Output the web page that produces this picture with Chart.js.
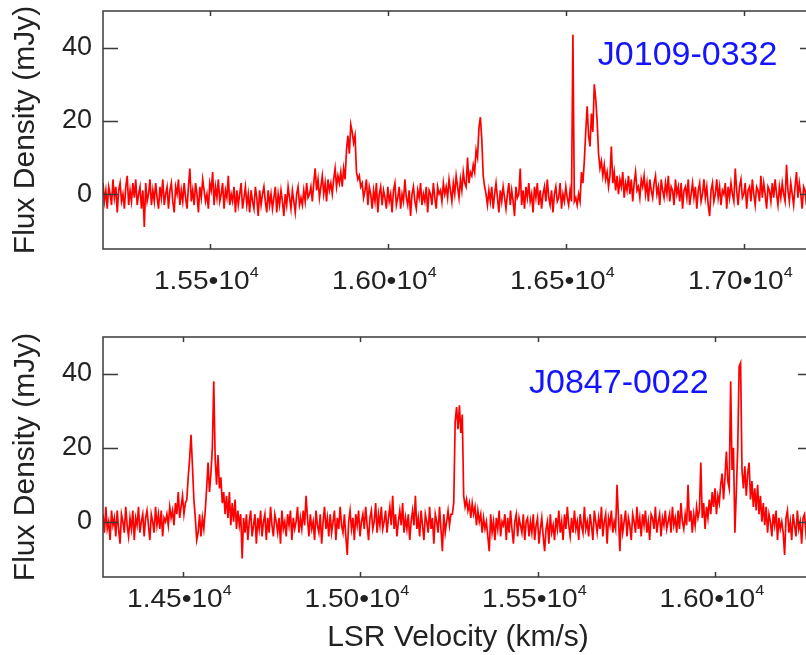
<!DOCTYPE html>
<html>
<head>
<meta charset="utf-8">
<script src="https://cdn.jsdelivr.net/npm/chart.js@4.4.1/dist/chart.umd.min.js"></script>
<style>
  html, body { margin: 0; padding: 0; background: #fff; }
  #fig { position: relative; width: 806px; height: 655px; overflow: hidden; background: #fff; }
  #fig canvas { position: absolute; left: 0; }
  #c1 { top: 0; }
  #c2 { top: 320px; }
</style>
</head>
<body>
<div id="fig">
  <canvas id="c1" width="830" height="320"></canvas>
  <canvas id="c2" width="830" height="335"></canvas>
</div>
<script>
// ---- J0109-0332: channels start at TOP_V0 km/s, spaced TOP_DV km/s ----
const TOP_NAME = 'J0109-0332';
const TOP_V0 = 15200;
const TOP_DV = 4;
const TOP_FLUX = [
  3, -2, 1, -4, 2, 0, -3, 4, -1, 2, -5, 1, 3, -2, 0, -4, 2, 5, -3, 1,
  -2, 3, -1, 4, -3, 0, 2, -4, 1, -9, 3, -2, 0, 4, -3, 1, -2, 3, -1, -4,
  2, -1, 4, -3, 0, 2, -4, 1, 3, -2, -5, 2, 0, 4, -3, 1, -2, 3, -1, -4,
  2, 7, -2, 1, -3, 3, 0, -5, 2, -1, 4, 1, -2, 0, -4, 3, 1, 6, -3, 2,
  -1, 4, -2, 0, 3, -4, 1, -1, 5, -3, 0, -2, 2, -5, 1, -3, 0, 3, -4, -1,
  2, -3, 0, -5, 1, -2, -4, 2, -1, -6, 1, -3, 0, 2, -2, -5, 1, -3, 0, -4,
  -1, 2, -5, 0, -3, 1, -2, -6, 0, -3, 2, -1, -4, 1, -2, -5, 0, 2, -3, -1,
  -3, 1, -2, 3, -1, 0, 2, -2, 3, 7, 1, 4, -1, 2, 5, 0, 3, -2, 4, 1,
  3, 0, 4, 7, 2, 5, 3, 6, 2, 7, 4, 12, 16, 11, 19, 17, 14, 16, 6, 4,
  5, 2, 3, -1, 1, 4, -3, 2, 0, -4, 1, -2, 3, -5, 0, 2, -3, 1, -1, -4,
  2, -2, 0, -5, 1, 3, -3, -1, 2, -4, 0, -2, 4, -1, -3, 1, -6, 0, 2, -2,
  -4, 1, -1, 3, -3, 0, -2, 2, -5, 1, 0, -3, 3, -1, -4, 2, 0, 1, -2, 3,
  0, 2, -1, 4, 1, -2, 3, 0, 5, 2, -1, 4, 1, 6, 3, 2, 10, 3, 6, 5,
  8, 6, 12, 10, 18, 21, 15, 5, 2, 0, -3, 1, -2, 2, -4, 0, 3, -1, -5, 1,
  -2, 2, -1, -4, 0, 3, -3, 1, -2, -6, 2, -1, 0, 7, -3, 1, -4, 2, -1, 3,
  -2, 0, -5, 2, -1, 3, -3, 1, -4, 0, 2, -2, 4, -1, -3, 1, -5, 0, 2, -2,
  -1, 3, -4, 0, -2, 2, -1, -3, 1, -2, 43.5, -2, -1, -3, 0, -2, 6, 3, 9, 17,
  24, 16, 13, 22, 17, 30, 26, 20, 11, 7, 9, 5, 8, 4, 6, 2, 5, 13, 3, 6,
  1, 5, 0, 4, 2, 6, -1, 3, 1, 5, 0, 4, -2, 3, 6, 1, 2, -1, 4, 2,
  5, 0, 3, -2, 4, 1, -1, 3, 5, 0, 2, -3, 4, 1, -1, 3, 0, 5, -2, 2,
  1, -3, 4, 0, 2, -2, 3, -4, 1, 2, -1, 4, -3, 0, 3, -1, 2, -4, 1, 3,
  -2, 0, 4, -1, 2, -3, -6, 1, 3, -2, 0, 4, -1, 2, -3, 1, 0, 3, -4, 2,
  -1, 3, 0, -2, 7, 1, -3, 2, 4, -1, 0, 3, -4, 1, 2, -2, 4, 0, -3, 2,
  1, -2, 5, -1, 3, 0, -4, 2, 1, -2, 3, -1, 4, 0, -3, 2, -1, 3, 0, -2,
  8, 1, -2, 3, 0, -3, 2, 6, -1, 3, 0, -4, 2, 1, -3, 4, 0, -2, 3, 1
];
const TOP_XRANGE = [15200, 17200];
const TOP_XTICKS = [15500, 16000, 16500, 17000];

// ---- J0847-0022 ----
const BOT_NAME = 'J0847-0022';
const BOT_V0 = 14275;
const BOT_DV = 4;
const BOT_FLUX = [
  2, -3, 4, -2, 0, -5, 3, -1, 1, -4, 3, -2, -6, 2, 0, -3, 4, -1, -4, 1,
  -2, 3, -5, 1, -1, 4, -3, 0, 2, -4, 1, 3, -1, -5, 2, 0, -3, 4, -1, 2,
  -2, 3, -4, 1, 0, 2, -1, 4, 1, 3, -1, 5, 2, 8, 1, 4, 7, 2, 5, 6,
  12, 17, 23.5, 15, 6, 1, -5, -3, 2, -4, 1, -2, 3, 9, 16, 8, 13, 20, 38, 17,
  10, 18, 9, 12, 5, 8, 2, 7, 1, 8, -1, 5, 0, 6, -2, 3, -1, 2, -10, 1,
  -3, 2, -5, 0, 3, -4, -1, 2, -6, 1, -2, 3, -4, 0, 2, -5, 1, -3, 4, -1,
  -4, 2, 0, -3, 1, -6, 3, -2, 0, -4, 2, -1, 3, -5, 1, -2, 0, 4, -3, 1,
  -2, 3, -1, 7, 1, -4, 2, -2, 0, -5, 3, -1, -3, 2, -6, 0, 4, -2, 1, -4,
  2, -3, 0, 3, -5, 1, -2, 4, -1, -3, 2, -4, -9, 0, 3, -2, 1, -5, 2, -1,
  3, -4, 0, 2, -2, 4, -1, -5, 1, 3, -2, 0, 5, -3, 2, -1, 4, -2, 0, 3,
  -3, 1, 4, -1, 7, -2, 2, -4, 0, 3, -1, 5, -3, 1, -2, 2, -5, 0, 3, -1,
  7, -2, 1, -4, 3, -1, -5, 2, 0, -3, 4, -2, 1, -6, 2, 0, -3, 4, -2, -8,
  2, -3, 0, 3, -1, 2, 2, 5, 27, 31, 25, 31.5, 24, 29, 7, 4, 6, 3, 5, 1,
  5, 2, 4, -1, 3, 0, 2, -3, 1, -2, 0, -4, -8, 2, -3, 0, -5, 1, -2, 3,
  -4, 0, -1, 2, -5, 1, -3, 3, -2, -6, 0, 2, -4, 1, -1, -3, 2, -5, 0, 1,
  -4, 0, -3, 2, -5, -1, 1, -6, -2, 1, -4, -8, -2, 0, -6, 2, -3, -1, -5, 1,
  -2, 3, -3, 0, -5, 2, -2, 4, -1, -4, 1, -3, 3, -2, 0, -5, 2, -1, -3, 4,
  -2, 0, -4, 2, -1, -5, 3, 0, -3, 1, -2, 4, -4, 0, 2, -6, 1, -1, 3, -3,
  0, -2, 10, 1, -8, 2, -3, 0, 3, -4, 1, -1, -5, 2, 0, -3, 4, -2, 1, -4,
  2, -1, 3, -3, 0, -5, 2, 1, -2, 4, -3, 0, 2, -4, 1, -1, 3, -2, 0, 2,
  -3, 4, -1, 1, -3, 3, -2, 5, 0, -2, 2, -1, 10, 0, 3, -3, 2, -1, 4, 1,
  3, 16, 1, 5, -2, 4, 1, 6, 2, 8, 4, 9, 2, 7, 5, 10, 13, 6, 12, 19,
  11, 9, 38, 14, 20, -3, 8, 20, 42, 43, 14, 9, 15, 7, 13, 16, 6, 11, 4, 9,
  3, 10, 2, 7, 0, 5, -1, 4, -3, 2, 0, -4, 2, -1, 3, -5, 1, -2, 0, -3,
  -9, 1, 3, -3, 0, -5, 2, -1, -4, 3, -2, 0, -6, 1, 2, -3, 0, -5, 2, -1
];
const BOT_XRANGE = [14275, 16275];
const BOT_XTICKS = [14500, 15000, 15500, 16000];

// ---- shared flux axis ----
const Y_RANGE = [-15, 50];
const Y_TICKS = [0, 20, 40];
const EXPONENT = 4;

const FONT = "'Liberation Sans', Arial, Helvetica, sans-serif";
const INK = '#222222';
const FRAME = '#3a3a3a';

// Frame with inward ticks on all four sides, scientific x labels and the source name
const panelDecor = {
  id: 'panelDecor',
  afterDraw(chart, args, o) {
    const { ctx, chartArea: a } = chart;
    const xs = chart.scales.x, ys = chart.scales.y;
    ctx.save();
    ctx.strokeStyle = FRAME;
    ctx.lineWidth = 1.5;
    ctx.strokeRect(a.left, a.top, a.right - a.left, a.bottom - a.top);
    ctx.beginPath();
    ys.ticks.forEach(t => {
      const py = Math.round(ys.getPixelForValue(t.value)) + 0.5;
      ctx.moveTo(a.left, py); ctx.lineTo(a.left + 15, py);
      ctx.moveTo(a.right, py); ctx.lineTo(a.right - 15, py);
    });
    xs.ticks.forEach(t => {
      const px = Math.round(xs.getPixelForValue(t.value)) + 0.5;
      ctx.moveTo(px, a.bottom); ctx.lineTo(px, a.bottom - 5);
      ctx.moveTo(px, a.top); ctx.lineTo(px, a.top + 5);
    });
    ctx.stroke();

    // x tick labels written as m.mm•10^4
    const sx = 1.08;
    ctx.fillStyle = INK;
    ctx.textAlign = 'left';
    ctx.textBaseline = 'alphabetic';
    xs.ticks.forEach(t => {
      const px = xs.getPixelForValue(t.value);
      const main = (t.value / Math.pow(10, EXPONENT)).toFixed(2) + '\u202210';
      const sup = String(EXPONENT);
      ctx.font = '26px ' + FONT;
      const w1 = ctx.measureText(main).width * sx;
      ctx.font = '15px ' + FONT;
      const w2 = ctx.measureText(sup).width * sx;
      const x0 = px - (w1 + w2) / 2 - 3.5;
      const yb = a.bottom + o.labelDrop;
      ctx.save();
      ctx.translate(x0, yb);
      ctx.scale(sx, 1);
      ctx.font = '26px ' + FONT;
      ctx.fillText(main, 0, 0);
      ctx.font = '15px ' + FONT;
      ctx.fillText(sup, w1 / sx, -12.5);
      ctx.restore();
    });

    // source name
    ctx.fillStyle = '#1414ff';
    ctx.font = '34px ' + FONT;
    ctx.fillText(o.name, xs.getPixelForValue(o.nameAt[0]), ys.getPixelForValue(o.nameAt[1]));
    ctx.restore();
  }
};

function makePanel(id, p) {
  const points = p.flux.map((f, i) => ({ x: p.v0 + i * p.dv, y: f }));
  return new Chart(document.getElementById(id), {
    type: 'line',
    data: {
      datasets: [{
        data: points,
        borderColor: '#ff0000',
        borderWidth: 1.7,
        borderJoinStyle: 'miter',
        pointRadius: 0,
        tension: 0,
        fill: false
      }]
    },
    options: {
      responsive: false,
      animation: false,
      events: [],
      layout: { autoPadding: false, padding: p.padding },
      plugins: {
        legend: { display: false },
        tooltip: { enabled: false },
        panelDecor: { name: p.name, nameAt: p.nameAt, labelDrop: p.labelDrop }
      },
      scales: {
        x: {
          type: 'linear',
          min: p.xRange[0],
          max: p.xRange[1],
          afterBuildTicks: s => { s.ticks = p.xTicks.map(v => ({ value: v })); },
          grid: { display: false, drawTicks: false },
          border: { display: false },
          ticks: { display: false },
          title: p.xTitle
            ? { display: true, text: p.xTitle, color: INK,
                font: { family: FONT, size: 30, lineHeight: 1 }, padding: { top: 0, bottom: 2 } }
            : { display: false },
          afterFit: s => { s.height = p.xAxisHeight; s.paddingLeft = 0; s.paddingRight = 0; }
        },
        y: {
          type: 'linear',
          min: Y_RANGE[0],
          max: Y_RANGE[1],
          afterBuildTicks: s => { s.ticks = Y_TICKS.map(v => ({ value: v })); },
          grid: { display: false, drawTicks: false },
          border: { display: false },
          ticks: { color: INK, font: { family: FONT, size: 27 }, padding: 11 },
          title: { display: true, text: 'Flux Density (mJy)', color: INK,
                   font: { family: FONT, size: 30, lineHeight: 1 }, padding: { top: 11, bottom: 0 } },
          afterFit: s => { s.width = 103; s.paddingTop = 0; s.paddingBottom = 0; }
        }
      }
    },
    plugins: [panelDecor]
  });
}

makePanel('c1', {
  name: TOP_NAME, v0: TOP_V0, dv: TOP_DV, flux: TOP_FLUX,
  xRange: TOP_XRANGE, xTicks: TOP_XTICKS,
  nameAt: [16590, 35.2], labelDrop: 40,
  padding: { top: 11, right: 15, bottom: 0, left: 0 },
  xAxisHeight: 71
});

makePanel('c2', {
  name: BOT_NAME, v0: BOT_V0, dv: BOT_DV, flux: BOT_FLUX,
  xRange: BOT_XRANGE, xTicks: BOT_XTICKS,
  nameAt: [15475, 34.8], labelDrop: 30,
  padding: { top: 17, right: 17, bottom: 0, left: 0 },
  xAxisHeight: 78,
  xTitle: 'LSR Velocity (km/s)'
});
</script>
</body>
</html>
